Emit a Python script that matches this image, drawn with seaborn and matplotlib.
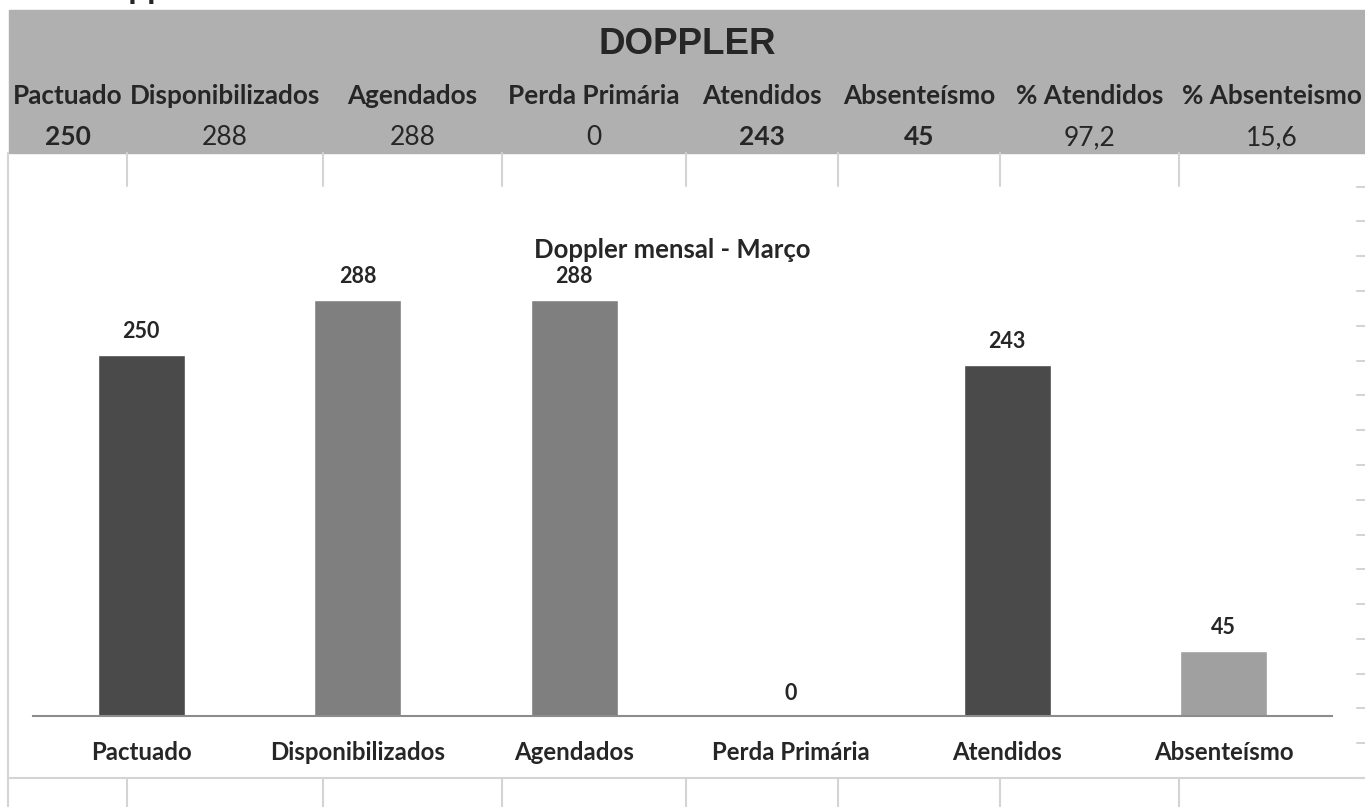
import numpy as np
import seaborn as sns
import matplotlib.pyplot as plt
from matplotlib.patches import Rectangle
from matplotlib.lines import Line2D

sns.set_theme(style="white")
plt.rcParams["font.family"] = ["Lato", "DejaVu Sans"]

# ================================================================
#  DADOS
# ================================================================
categorias = ["Pactuado", "Disponibilizados", "Agendados", "Perda Primária", "Atendidos", "Absenteísmo"]
valores = [250, 288, 288, 0, 243, 45]
cores = ["#4a4a4a", "#7f7f7f", "#7f7f7f", "#7f7f7f", "#4a4a4a", "#a0a0a0"]

cab_labels = ["Pactuado", "Disponibilizados", "Agendados", "Perda Primária",
              "Atendidos", "Absenteísmo", "% Atendidos", "% Absenteismo"]
cab_valores = ["250", "288", "288", "0", "243", "45", "97,2", "15,6"]
cab_negrito = [True, False, False, False, True, True, False, False]

W, H = 1365, 807
fig = plt.figure(figsize=(W / 100, H / 100), dpi=100)


def fx(px):
    return px / W


def fy(py):
    return 1 - py / H


grid = "#d4d4d4"

# ================================================================
#  PLANILHA (cabeçalho + grade)
# ================================================================
# título da planilha, cortado no topo como na captura
fig.text(fx(84), fy(-1), "Doppler", fontsize=24, fontweight="bold", va="baseline", ha="left")

fig.patches.append(Rectangle((fx(9), fy(153)), fx(1365) - fx(9), fy(10) - fy(153),
                             transform=fig.transFigure, color="#b0b0b0", zorder=0))
fig.text(fx(687), fy(45), "DOPPLER", fontsize=26.5, fontweight="bold",
         family="Liberation Sans", ha="center", va="center")

bordas = [8, 127, 323, 502, 686, 838, 1000, 1179, 1365]
for i in range(8):
    cx = (bordas[i] + bordas[i + 1]) / 2
    fig.text(fx(cx), fy(104), cab_labels[i], fontsize=18.8, fontweight="bold",
             ha="center", va="baseline")
    fig.text(fx(cx), fy(145), cab_valores[i], fontsize=19,
             fontweight="bold" if cab_negrito[i] else "normal", ha="center", va="baseline")

linhas = [Line2D([fx(8), fx(8)], [fy(153), fy(807)])]
for b in bordas[1:-1]:
    linhas.append(Line2D([fx(b), fx(b)], [fy(153), fy(186)]))
    linhas.append(Line2D([fx(b), fx(b)], [fy(778), fy(807)]))
linhas.append(Line2D([fx(8), fx(1365)], [fy(778), fy(778)]))
for yy in np.linspace(186.7, 778, 18):
    linhas.append(Line2D([fx(1357), fx(1365)], [fy(yy), fy(yy)]))
for ln in linhas:
    ln.set_color(grid)
    ln.set_linewidth(1.5)
    ln.set_transform(fig.transFigure)
    fig.lines.append(ln)

# ================================================================
#  GRÁFICO
# ================================================================
fig.text(fx(672), fy(250), "Doppler mensal - Março", fontsize=18.5, fontweight="bold",
         ha="center", va="center")

ax = fig.add_axes([fx(33), fy(716), fx(1332) - fx(33), fy(210.4) - fy(716)])
ax.set_facecolor("none")
sns.barplot(x=categorias, y=valores, hue=categorias, palette=cores, width=0.4,
            saturation=1, legend=False, ax=ax)
ax.set_xlim(-0.5, 5.5)
ax.set_ylim(0, 350)

for c in ax.containers:
    ax.bar_label(c, padding=9, fontsize=15.5, fontweight="bold")

for s in ["left", "right", "top"]:
    ax.spines[s].set_visible(False)
ax.spines["bottom"].set_color("#8c8c8c")
ax.spines["bottom"].set_linewidth(1.5)
ax.set_yticks([])
ax.set_xlabel("")
ax.set_ylabel("")
ax.set_xticks(range(6))
ax.set_xticklabels(categorias, fontsize=17.3, fontweight="bold")
ax.set_xticks(np.arange(-0.5, 6, 1), minor=True)
ax.tick_params(axis="x", which="major", length=0, pad=18)
ax.tick_params(axis="x", which="minor", length=5, width=1.5, color="#8c8c8c", direction="out")

plt.savefig("out.png", dpi=100)
